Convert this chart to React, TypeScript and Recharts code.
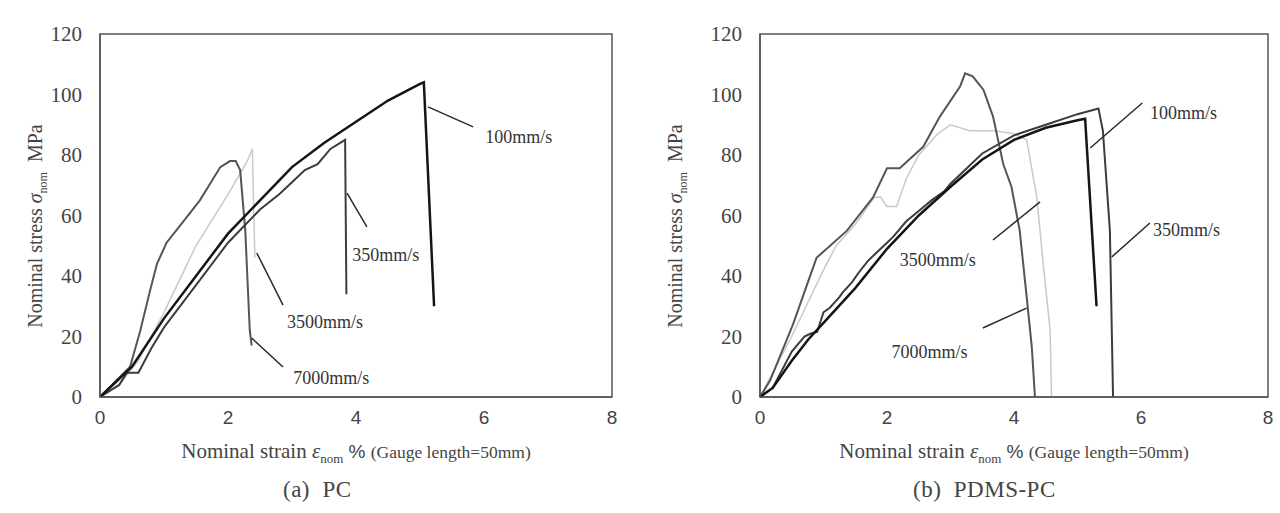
import { LineChart, Line, XAxis, YAxis, ReferenceArea, ReferenceLine, ReferenceDot } from "recharts";

type Pt = { x: number; y: number };

const xTicks = [0, 2, 4, 6, 8];
const yTicks = [0, 20, 40, 60, 80, 100, 120];

// (a) PC — strain %, stress MPa
const pc100: Pt[] = [
  { x: 0, y: 0 }, { x: 0.5, y: 10 }, { x: 1, y: 26 }, { x: 1.5, y: 40 }, { x: 2, y: 54 },
  { x: 2.5, y: 65 }, { x: 3, y: 76 }, { x: 3.5, y: 84 }, { x: 4, y: 91 }, { x: 4.5, y: 98 },
  { x: 5, y: 103.5 }, { x: 5.06, y: 104 }, { x: 5.22, y: 30 },
];
const pc350: Pt[] = [
  { x: 0, y: 0 }, { x: 0.3, y: 4 }, { x: 0.42, y: 8 }, { x: 0.6, y: 8 }, { x: 0.8, y: 16 },
  { x: 1, y: 23 }, { x: 1.5, y: 37 }, { x: 2, y: 51 }, { x: 2.5, y: 62 }, { x: 2.8, y: 67 },
  { x: 3, y: 71 }, { x: 3.2, y: 75 }, { x: 3.4, y: 77 }, { x: 3.6, y: 82 }, { x: 3.83, y: 85 },
  { x: 3.85, y: 34 },
];
const pc3500: Pt[] = [
  { x: 0, y: 0 }, { x: 0.3, y: 4 }, { x: 0.6, y: 12 }, { x: 1, y: 28 }, { x: 1.5, y: 50 },
  { x: 2, y: 67 }, { x: 2.3, y: 78 }, { x: 2.38, y: 82 }, { x: 2.42, y: 46 },
];
const pc7000: Pt[] = [
  { x: 0, y: 0 }, { x: 0.47, y: 10 }, { x: 0.63, y: 22 }, { x: 0.78, y: 35 }, { x: 0.89, y: 44 },
  { x: 1.04, y: 51 }, { x: 1.3, y: 58 }, { x: 1.56, y: 65 }, { x: 1.88, y: 76 }, { x: 2.03, y: 78 },
  { x: 2.12, y: 78 }, { x: 2.19, y: 75 }, { x: 2.27, y: 55 }, { x: 2.34, y: 22 }, { x: 2.37, y: 17 },
];

// (b) PDMS-PC
const pd100: Pt[] = [
  { x: 0, y: 0 }, { x: 0.2, y: 3 }, { x: 0.5, y: 12 }, { x: 0.76, y: 19 }, { x: 1, y: 24.5 },
  { x: 1.5, y: 36 }, { x: 2, y: 49 }, { x: 2.5, y: 60 }, { x: 3, y: 69.5 }, { x: 3.5, y: 78.5 },
  { x: 4, y: 85 }, { x: 4.5, y: 89 }, { x: 5, y: 91.5 }, { x: 5.12, y: 92 }, { x: 5.3, y: 30 },
];
const pd350: Pt[] = [
  { x: 0, y: 0 }, { x: 0.2, y: 3 }, { x: 0.5, y: 15 }, { x: 0.7, y: 20 }, { x: 0.8, y: 21 },
  { x: 0.9, y: 21.5 }, { x: 1.0, y: 28 }, { x: 1.1, y: 29.5 }, { x: 1.25, y: 33 }, { x: 1.3, y: 34.5 },
  { x: 1.45, y: 38 }, { x: 1.55, y: 41 }, { x: 1.7, y: 45 }, { x: 1.8, y: 47 }, { x: 2, y: 51 },
  { x: 2.1, y: 53 }, { x: 2.3, y: 58 }, { x: 2.5, y: 61.5 }, { x: 2.7, y: 65 }, { x: 2.9, y: 68 },
  { x: 3, y: 70.5 }, { x: 3.5, y: 80.5 }, { x: 4, y: 86.5 }, { x: 4.5, y: 90 }, { x: 5, y: 93.5 },
  { x: 5.33, y: 95.4 }, { x: 5.4, y: 88 }, { x: 5.51, y: 55 }, { x: 5.56, y: 0 },
];
const pd3500: Pt[] = [
  { x: 0, y: 0 }, { x: 0.5, y: 20 }, { x: 1, y: 42 }, { x: 1.2, y: 50 }, { x: 1.5, y: 57 },
  { x: 1.8, y: 66 }, { x: 1.9, y: 66 }, { x: 2.0, y: 63 }, { x: 2.15, y: 63 }, { x: 2.3, y: 72 },
  { x: 2.5, y: 80 }, { x: 2.8, y: 87 }, { x: 3.0, y: 90 }, { x: 3.3, y: 88 }, { x: 3.7, y: 88 },
  { x: 4.0, y: 87 }, { x: 4.2, y: 85 }, { x: 4.36, y: 66 }, { x: 4.46, y: 44 }, { x: 4.57, y: 22 },
  { x: 4.59, y: 0 },
];
const pd7000: Pt[] = [
  { x: 0, y: 0 }, { x: 0.16, y: 5.5 }, { x: 0.52, y: 24 }, { x: 0.89, y: 46 }, { x: 1.37, y: 55 },
  { x: 1.78, y: 66 }, { x: 2.0, y: 75.6 }, { x: 2.2, y: 75.6 }, { x: 2.57, y: 82.7 }, { x: 2.83, y: 92.6 },
  { x: 3.15, y: 102.6 }, { x: 3.23, y: 107 }, { x: 3.35, y: 106 }, { x: 3.52, y: 101.5 }, { x: 3.67, y: 92.7 },
  { x: 3.83, y: 77 }, { x: 3.96, y: 69.5 }, { x: 4.09, y: 55 }, { x: 4.2, y: 33 }, { x: 4.28, y: 16.6 },
  { x: 4.33, y: 0 },
];

type Series = { name: string; data: Pt[]; color: string; width: number };
type Note = { text: string; from: Pt; to: Pt; at: Pt };

const pcSeries: Series[] = [
  { name: "3500mm/s", data: pc3500, color: "#c9c9c9", width: 1.5 },
  { name: "7000mm/s", data: pc7000, color: "#555", width: 2 },
  { name: "350mm/s", data: pc350, color: "#3c3c3c", width: 2 },
  { name: "100mm/s", data: pc100, color: "#151515", width: 2.5 },
];
const pdSeries: Series[] = [
  { name: "3500mm/s", data: pd3500, color: "#c9c9c9", width: 1.5 },
  { name: "7000mm/s", data: pd7000, color: "#555", width: 2 },
  { name: "350mm/s", data: pd350, color: "#3c3c3c", width: 2 },
  { name: "100mm/s", data: pd100, color: "#151515", width: 2.5 },
];

const pcNotes: Note[] = [
  { text: "100mm/s", from: { x: 5.125, y: 95.9 }, to: { x: 5.83, y: 89.3 }, at: { x: 6.02, y: 86 } },
  { text: "350mm/s", from: { x: 3.86, y: 67.4 }, to: { x: 4.17, y: 56.2 }, at: { x: 3.94, y: 47 } },
  { text: "3500mm/s", from: { x: 2.45, y: 47.6 }, to: { x: 2.86, y: 30.4 }, at: { x: 2.92, y: 24.8 } },
  { text: "7000mm/s", from: { x: 2.37, y: 19.5 }, to: { x: 2.86, y: 9.9 }, at: { x: 3.02, y: 6.3 } },
];
const pdNotes: Note[] = [
  { text: "100mm/s", from: { x: 5.2, y: 82.3 }, to: { x: 6.02, y: 97.2 }, at: { x: 6.14, y: 93.9 } },
  { text: "350mm/s", from: { x: 5.54, y: 46.3 }, to: { x: 6.14, y: 57.5 }, at: { x: 6.19, y: 55.2 } },
  { text: "3500mm/s", from: { x: 3.67, y: 51.9 }, to: { x: 4.41, y: 64.5 }, at: { x: 2.2, y: 45.3 } },
  { text: "7000mm/s", from: { x: 3.51, y: 22.8 }, to: { x: 4.2, y: 29.4 }, at: { x: 2.07, y: 15 } },
];

const serif = "'Liberation Serif', 'DejaVu Serif', serif";
const sans = "'Liberation Sans', Arial, sans-serif";

function Panel({ series, notes, left, mLeft, mRight, caption, capLeft }: {
  series: Series[]; notes: Note[]; left: number; mLeft: number; mRight: number; caption: string; capLeft: number;
}) {
  const plotLeft = mLeft + 100;
  const plotW = 640 - plotLeft - mRight;
  const cx = left + plotLeft + plotW / 2;
  return (
    <>
      <div style={{ position: "absolute", left, top: 0 }}>
        <LineChart width={640} height={450} margin={{ top: 34, right: mRight, left: mLeft, bottom: 13 }}>
          <XAxis
            type="number"
            dataKey="x"
            domain={[0, 8]}
            ticks={xTicks}
            height={40}
            tickLine={false}
            tickMargin={8}
            axisLine={{ stroke: "#555", strokeWidth: 1.5 }}
            tick={{ fill: "#444", fontSize: 19, fontFamily: sans }}
          />
          <YAxis
            type="number"
            dataKey="y"
            domain={[0, 120]}
            ticks={yTicks}
            width={100}
            tickLine={false}
            tickMargin={12}
            axisLine={{ stroke: "#555", strokeWidth: 1.5 }}
            tick={{ fill: "#444", fontSize: 21, fontFamily: serif }}
          />
          <ReferenceArea x1={0} x2={8} y1={0} y2={120} fill="none" stroke="#555" strokeWidth={1.5} />
          {series.map((s) => (
            <Line
              key={s.name}
              data={s.data}
              dataKey="y"
              type="linear"
              stroke={s.color}
              strokeWidth={s.width}
              dot={false}
              isAnimationActive={false}
            />
          ))}
          {notes.map((n) => (
            <ReferenceLine key={"l" + n.text} segment={[n.from, n.to]} stroke="#2a2a2a" strokeWidth={1.5} />
          ))}
          {notes.map((n) => (
            <ReferenceDot
              key={"t" + n.text}
              x={n.at.x}
              y={n.at.y}
              r={0}
              shape={(p: any) => (
                <text x={p.cx} y={p.cy} dy="0.35em" fill="#333" fontSize={18} fontFamily={serif}>
                  {n.text}
                </text>
              )}
            />
          ))}
        </LineChart>
      </div>
      <div
        style={{
          position: "absolute", left: left + 35 - 150, top: 226 - 14, width: 300, height: 28,
          transform: "rotate(-90deg)", textAlign: "center", fontFamily: serif, fontSize: 20,
          color: "#444", lineHeight: "28px", whiteSpace: "nowrap",
        }}
      >
        Nominal stress <i>σ</i><sub style={{ fontSize: 12 }}>nom</sub>&nbsp;&nbsp;MPa
      </div>
      <div
        style={{
          position: "absolute", left: cx - 250, top: 438, width: 500, textAlign: "center",
          fontFamily: serif, fontSize: 21, color: "#444", whiteSpace: "nowrap", lineHeight: "26px",
        }}
      >
        Nominal strain <i>ε</i><sub style={{ fontSize: 13 }}>nom</sub> <span style={{ fontFamily: sans, fontSize: 19 }}>%</span>{" "}
        <span style={{ fontSize: 17.5 }}>(Gauge length=50mm)</span>
      </div>
      <div
        style={{
          position: "absolute", left: capLeft, top: 477, fontFamily: serif, fontSize: 23,
          letterSpacing: 0.5, color: "#444", whiteSpace: "pre", lineHeight: "26px",
        }}
      >
        {caption}
      </div>
    </>
  );
}

export default function App() {
  return (
    <div style={{ position: "relative", width: 1280, height: 513, background: "#fff", overflow: "hidden" }}>
      <style>{"body{margin:0}"}</style>
      <Panel series={pcSeries} notes={pcNotes} left={0} mLeft={0} mRight={28} caption="(a)  PC" capLeft={283} />
      <Panel series={pdSeries} notes={pdNotes} left={640} mLeft={20} mRight={12} caption="(b)  PDMS-PC" capLeft={913} />
    </div>
  );
}
